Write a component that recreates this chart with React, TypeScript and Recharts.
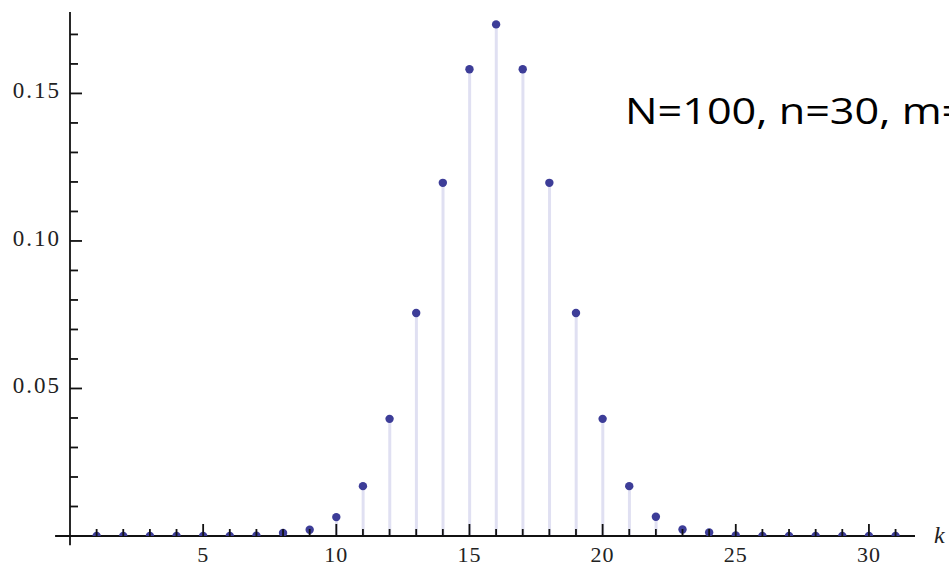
import React from 'react';
import {
  Bar,
  ComposedChart,
  ReferenceLine,
  Scatter,
  XAxis,
  YAxis,
} from 'recharts';

// k = 1 .. 31 and the probability at each k
const K_VALUES = [
  1, 2, 3, 4, 5, 6, 7, 8, 9, 10, 11, 12, 13, 14, 15, 16,
  17, 18, 19, 20, 21, 22, 23, 24, 25, 26, 27, 28, 29, 30, 31,
];
const P_VALUES = [
  0, 0, 0, 0, 0, 0, 0.0001, 0.001, 0.0021, 0.0064, 0.0169, 0.0397, 0.0756, 0.1197, 0.1582, 0.1734,
  0.1582, 0.1197, 0.0756, 0.0397, 0.0169, 0.0065, 0.0022, 0.0012, 0.0002, 0, 0, 0, 0, 0, 0,
];

const K_TICKS = K_VALUES;
const K_LABELS = [5, 10, 15, 20, 25, 30];
const P_TICKS = [
  0.01, 0.02, 0.03, 0.04, 0.05, 0.06, 0.07, 0.08, 0.09,
  0.1, 0.11, 0.12, 0.13, 0.14, 0.15, 0.16, 0.17,
];
const P_LABELS = [0.05, 0.1, 0.15];

const CAPTION = 'N=100, n=30, m=';

const X_MAX = 31.73;
const Y_MAX = 0.1776;

const rows = K_VALUES.map((k, i) => ({ k, p: P_VALUES[i] }));

const AXIS = '#111';
const TICK_FONT = '"Liberation Serif", "DejaVu Serif", serif';
const DOT = '#3d3d98';
const STEM = '#e0e0f2';

function XTick(props: any) {
  const { x, y, payload } = props;
  const major = K_LABELS.includes(payload.value);
  return (
    <g>
      <line x1={x} x2={x} y1={y} y2={y - (major ? 12 : 7)} stroke={AXIS} strokeWidth={1.8} />
      {major && (
        <text
          x={x}
          y={y + 26}
          textAnchor="middle"
          fontFamily={TICK_FONT}
          fontSize={22}
          letterSpacing={1}
          fill="#222"
        >
          {payload.value}
        </text>
      )}
    </g>
  );
}

function YTick(props: any) {
  const { x, y, payload } = props;
  const major = P_LABELS.some((v) => Math.abs(v - payload.value) < 1e-9);
  return (
    <g>
      <line x1={x} x2={x + (major ? 12 : 8)} y1={y} y2={y} stroke={AXIS} strokeWidth={1.8} />
      {major && (
        <text
          x={x - 9}
          y={y + 5}
          textAnchor="end"
          fontFamily={TICK_FONT}
          fontSize={23}
          letterSpacing={2}
          fill="#222"
        >
          {payload.value.toFixed(2)}
        </text>
      )}
    </g>
  );
}

const renderDot = (props: any) => (
  <circle cx={props.cx} cy={props.cy} r={4.2} fill={DOT} />
);

export default function App() {
  return (
    <div style={{ position: 'absolute', left: 0, top: 0, width: 949, height: 568, background: '#fff' }}>
      <ComposedChart
        width={949}
        height={568}
        data={rows}
        margin={{ top: 12, right: 34, bottom: 0, left: 0 }}
      >
        <XAxis
          dataKey="k"
          type="number"
          domain={[0, X_MAX]}
          ticks={K_TICKS}
          interval={0}
          height={32}
          axisLine={false}
          tickLine={false}
          tickSize={0}
          tickMargin={0}
          tick={<XTick />}
          allowDataOverflow
        />
        <YAxis
          type="number"
          domain={[0, Y_MAX]}
          ticks={P_TICKS}
          interval={0}
          width={70}
          axisLine={false}
          tickLine={false}
          tickSize={0}
          tickMargin={0}
          tick={<YTick />}
          allowDataOverflow
        />
        {/* axes cross at the origin and overshoot a little */}
        <ReferenceLine
          segment={[{ x: -0.56, y: 0 }, { x: X_MAX, y: 0 }]}
          stroke={AXIS}
          strokeWidth={1.8}
          ifOverflow="visible"
        />
        <ReferenceLine
          segment={[{ x: 0, y: -0.0031 }, { x: 0, y: Y_MAX }]}
          stroke={AXIS}
          strokeWidth={1.8}
          ifOverflow="visible"
        />
        <Bar dataKey="p" barSize={3} fill={STEM} isAnimationActive={false} />
        <Scatter dataKey="p" shape={renderDot} isAnimationActive={false} />
      </ComposedChart>
      <svg
        width={949}
        height={568}
        style={{ position: 'absolute', left: 0, top: 0, pointerEvents: 'none' }}
      >
        <text
          transform="translate(625,124) scale(1.2,1)"
          fontFamily='"Open Sans", "Noto Sans", sans-serif'
          fontSize={36}
          fill="#000"
        >
          {CAPTION}
        </text>
        <text
          x={934}
          y={543}
          fontFamily={TICK_FONT}
          fontStyle="italic"
          fontSize={24}
          fill="#222"
        >
          k
        </text>
      </svg>
    </div>
  );
}
